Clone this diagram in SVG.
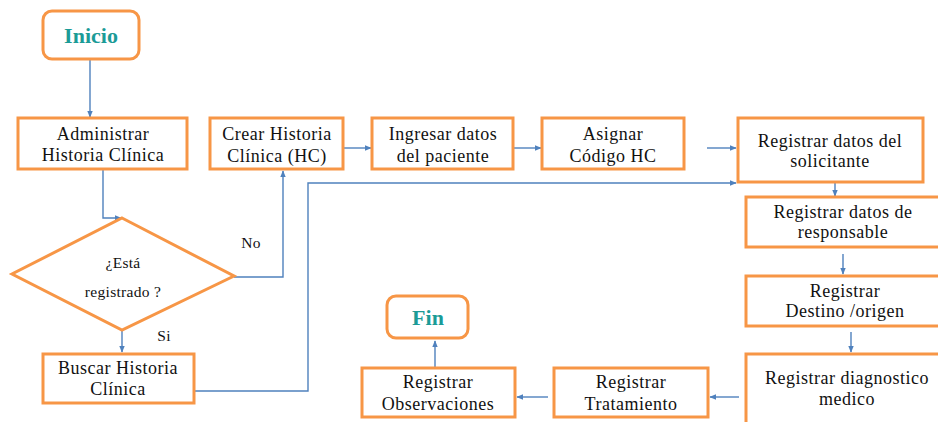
<svg xmlns="http://www.w3.org/2000/svg" width="938" height="422" viewBox="0 0 938 422">
  <style>
    .box { fill: #ffffff; stroke: #f79646; stroke-width: 3; }
    .lbl { font-family: "Liberation Serif", "Times New Roman", "DejaVu Serif", serif; font-size: 18px; letter-spacing: 0.5px; fill: #111111; text-anchor: middle; }
    .small { font-size: 15.5px; letter-spacing: 0.3px; }
    .term { font-family: "Liberation Serif", "Times New Roman", "DejaVu Serif", serif; font-size: 22px; font-weight: bold; fill: #1b9b97; text-anchor: middle; }
    .edge { fill: none; stroke: #4f81bd; stroke-width: 1.4; }
  </style>
  <defs>
    <marker id="arrow" viewBox="0 0 10 10" refX="9" refY="5" markerWidth="7" markerHeight="7" orient="auto" markerUnits="userSpaceOnUse">
      <path d="M0,1 L10,5 L0,9 z" fill="#4f81bd"/>
    </marker>
  </defs>
  <rect width="938" height="422" fill="#ffffff"/>

  <g id="connectors">
    <path class="edge" d="M90,59 V117" marker-end="url(#arrow)"/>
    <path class="edge" d="M103,170 V218 H121" marker-end="url(#arrow)"/>
    <path class="edge" d="M234,277 H283 V171" marker-end="url(#arrow)"/>
    <path class="edge" d="M122,330 V352" marker-end="url(#arrow)"/>
    <path class="edge" d="M195,391 H308 V183 H736" marker-end="url(#arrow)"/>
    <path class="edge" d="M344,148 H371" marker-end="url(#arrow)"/>
    <path class="edge" d="M514,148 H541" marker-end="url(#arrow)"/>
    <path class="edge" d="M707,148 H736" marker-end="url(#arrow)"/>
    <path class="edge" d="M835,183 V196" marker-end="url(#arrow)"/>
    <path class="edge" d="M843,254 V274" marker-end="url(#arrow)"/>
    <path class="edge" d="M851,332 V352" marker-end="url(#arrow)"/>
    <path class="edge" d="M739,397 H710" marker-end="url(#arrow)"/>
    <path class="edge" d="M548,397 H517" marker-end="url(#arrow)"/>
    <path class="edge" d="M435,367 V341" marker-end="url(#arrow)"/>
    <text class="lbl small" x="251" y="248">No</text>
    <text class="lbl small" x="164" y="341">Si</text>
  </g>

  <g id="inicio">
    <rect class="box" x="43" y="11" width="96" height="48" rx="9"/>
    <text class="term" x="91" y="43">Inicio</text>
  </g>

  <g id="administrar">
    <rect class="box" x="18" y="118" width="169" height="51"/>
    <text class="lbl" x="103" y="140">Administrar</text>
    <text class="lbl" x="103" y="161">Historia Clínica</text>
  </g>

  <g id="decision">
    <polygon class="box" points="122,218 234,276 122,330 12,274"/>
    <text class="lbl small" x="123" y="268">¿Está</text>
    <text class="lbl small" x="123" y="297">registrado ?</text>
  </g>

  <g id="buscar">
    <rect class="box" x="43" y="354" width="151" height="49"/>
    <text class="lbl" x="118" y="374">Buscar Historia</text>
    <text class="lbl" x="118" y="395">Clínica</text>
  </g>

  <g id="crear">
    <rect class="box" x="210" y="118" width="133" height="51"/>
    <text class="lbl" x="277" y="140">Crear Historia</text>
    <text class="lbl" x="277" y="162">Clínica (HC)</text>
  </g>

  <g id="ingresar">
    <rect class="box" x="372" y="118" width="141" height="51"/>
    <text class="lbl" x="443" y="140">Ingresar datos</text>
    <text class="lbl" x="443" y="162">del paciente</text>
  </g>

  <g id="asignar">
    <rect class="box" x="542" y="118" width="142" height="51"/>
    <text class="lbl" x="613" y="140">Asignar</text>
    <text class="lbl" x="613" y="162">Código HC</text>
  </g>

  <g id="solicitante">
    <rect class="box" x="738" y="118" width="185" height="64"/>
    <text class="lbl" x="830" y="147">Registrar datos del</text>
    <text class="lbl" x="830" y="167">solicitante</text>
  </g>

  <g id="responsable">
    <rect class="box" x="746" y="197" width="196" height="50"/>
    <text class="lbl" x="843" y="218">Registrar datos de</text>
    <text class="lbl" x="843" y="238">responsable</text>
  </g>

  <g id="destino">
    <rect class="box" x="746" y="276" width="196" height="50"/>
    <text class="lbl" x="845" y="297">Registrar</text>
    <text class="lbl" x="845" y="317">Destino /origen</text>
  </g>

  <g id="diagnostico">
    <rect class="box" x="746" y="354" width="196" height="80"/>
    <text class="lbl" x="847" y="384">Registrar diagnostico</text>
    <text class="lbl" x="847" y="405">medico</text>
  </g>

  <g id="tratamiento">
    <rect class="box" x="554" y="368" width="154" height="49"/>
    <text class="lbl" x="631" y="388">Registrar</text>
    <text class="lbl" x="631" y="410">Tratamiento</text>
  </g>

  <g id="observaciones">
    <rect class="box" x="362" y="368" width="153" height="49"/>
    <text class="lbl" x="438" y="388">Registrar</text>
    <text class="lbl" x="438" y="410">Observaciones</text>
  </g>

  <g id="fin">
    <rect class="box" x="387" y="296" width="81" height="42" rx="9"/>
    <text class="term" x="428" y="325">Fin</text>
  </g>
</svg>
